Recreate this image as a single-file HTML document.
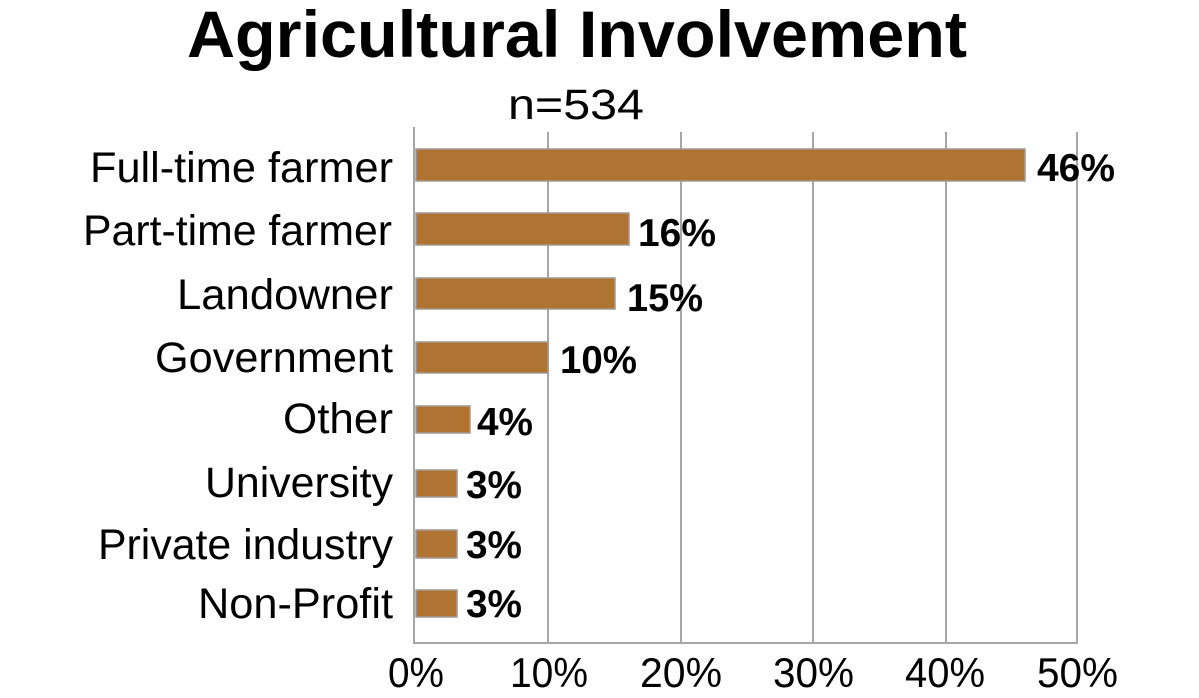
<!DOCTYPE html>
<html>
<head>
<meta charset="utf-8">
<style>
  html, body { margin: 0; padding: 0; background: #ffffff; }
  body { width: 1199px; height: 698px; overflow: hidden; }
  svg { display: block; }
  .cat { font-family: "Liberation Sans", sans-serif; font-size: 43px; fill: #000; }
  .val { font-family: "Liberation Sans", sans-serif; font-size: 39px; font-weight: bold; fill: #000; }
  .ax  { font-family: "Liberation Sans", sans-serif; font-size: 42px; fill: #000; }
</style>
</head>
<body>
<svg width="1199" height="698" viewBox="0 0 1199 698" xmlns="http://www.w3.org/2000/svg">
  <rect x="0" y="0" width="1199" height="698" fill="#ffffff"/>

  <!-- Title -->
  <text x="187" y="57" font-family="Liberation Sans, sans-serif" font-size="66" font-weight="bold" fill="#000" textLength="780" lengthAdjust="spacingAndGlyphs">Agricultural Involvement</text>
  <text x="508" y="119" font-family="Liberation Sans, sans-serif" font-size="43" fill="#000" textLength="136" lengthAdjust="spacingAndGlyphs">n=534</text>

  <!-- Gridlines -->
  <g stroke="#a6a6a6" stroke-width="2">
    <line x1="548" y1="132" x2="548" y2="643"/>
    <line x1="681" y1="132" x2="681" y2="643"/>
    <line x1="813" y1="132" x2="813" y2="643"/>
    <line x1="946" y1="132" x2="946" y2="643"/>
    <line x1="1077" y1="132" x2="1077" y2="643"/>
    <!-- axes -->
    <line x1="414" y1="127" x2="414" y2="644"/>
    <line x1="413" y1="643" x2="1078" y2="643"/>
  </g>

  <!-- Bars -->
  <g fill="#b07432" stroke="#a09a94" stroke-width="1.5">
    <rect x="416" y="149" width="609" height="32"/>
    <rect x="416" y="213" width="213" height="32"/>
    <rect x="416" y="278" width="199" height="31"/>
    <rect x="416" y="342" width="132" height="31"/>
    <rect x="416" y="406" width="54" height="27"/>
    <rect x="416" y="470" width="41" height="27"/>
    <rect x="416" y="530" width="41" height="28"/>
    <rect x="416" y="590" width="41" height="27"/>
  </g>

  <!-- Category labels -->
  <text class="cat" x="90"  y="182" textLength="303" lengthAdjust="spacingAndGlyphs">Full-time farmer</text>
  <text class="cat" x="83"  y="245" textLength="309" lengthAdjust="spacingAndGlyphs">Part-time farmer</text>
  <text class="cat" x="177" y="309" textLength="216" lengthAdjust="spacingAndGlyphs">Landowner</text>
  <text class="cat" x="155" y="372" textLength="238" lengthAdjust="spacingAndGlyphs">Government</text>
  <text class="cat" x="283" y="433" textLength="110" lengthAdjust="spacingAndGlyphs">Other</text>
  <text class="cat" x="205" y="497" textLength="188" lengthAdjust="spacingAndGlyphs">University</text>
  <text class="cat" x="98"  y="559" textLength="295" lengthAdjust="spacingAndGlyphs">Private industry</text>
  <text class="cat" x="198" y="618" textLength="195" lengthAdjust="spacingAndGlyphs">Non-Profit</text>

  <!-- Value labels -->
  <text class="val" x="1037" y="181" textLength="78" lengthAdjust="spacingAndGlyphs">46%</text>
  <text class="val" x="638"  y="246" textLength="78" lengthAdjust="spacingAndGlyphs">16%</text>
  <text class="val" x="627"  y="311" textLength="76" lengthAdjust="spacingAndGlyphs">15%</text>
  <text class="val" x="560"  y="373" textLength="77" lengthAdjust="spacingAndGlyphs">10%</text>
  <text class="val" x="477"  y="435" textLength="56" lengthAdjust="spacingAndGlyphs">4%</text>
  <text class="val" x="466"  y="498" textLength="56" lengthAdjust="spacingAndGlyphs">3%</text>
  <text class="val" x="466"  y="558" textLength="56" lengthAdjust="spacingAndGlyphs">3%</text>
  <text class="val" x="466"  y="617" textLength="56" lengthAdjust="spacingAndGlyphs">3%</text>

  <!-- X axis labels -->
  <text class="ax" x="388"  y="687" textLength="56" lengthAdjust="spacingAndGlyphs">0%</text>
  <text class="ax" x="510"  y="687" textLength="78" lengthAdjust="spacingAndGlyphs">10%</text>
  <text class="ax" x="640"  y="687" textLength="82" lengthAdjust="spacingAndGlyphs">20%</text>
  <text class="ax" x="773"  y="687" textLength="81" lengthAdjust="spacingAndGlyphs">30%</text>
  <text class="ax" x="905"  y="687" textLength="80" lengthAdjust="spacingAndGlyphs">40%</text>
  <text class="ax" x="1037" y="687" textLength="81" lengthAdjust="spacingAndGlyphs">50%</text>
</svg>
</body>
</html>
